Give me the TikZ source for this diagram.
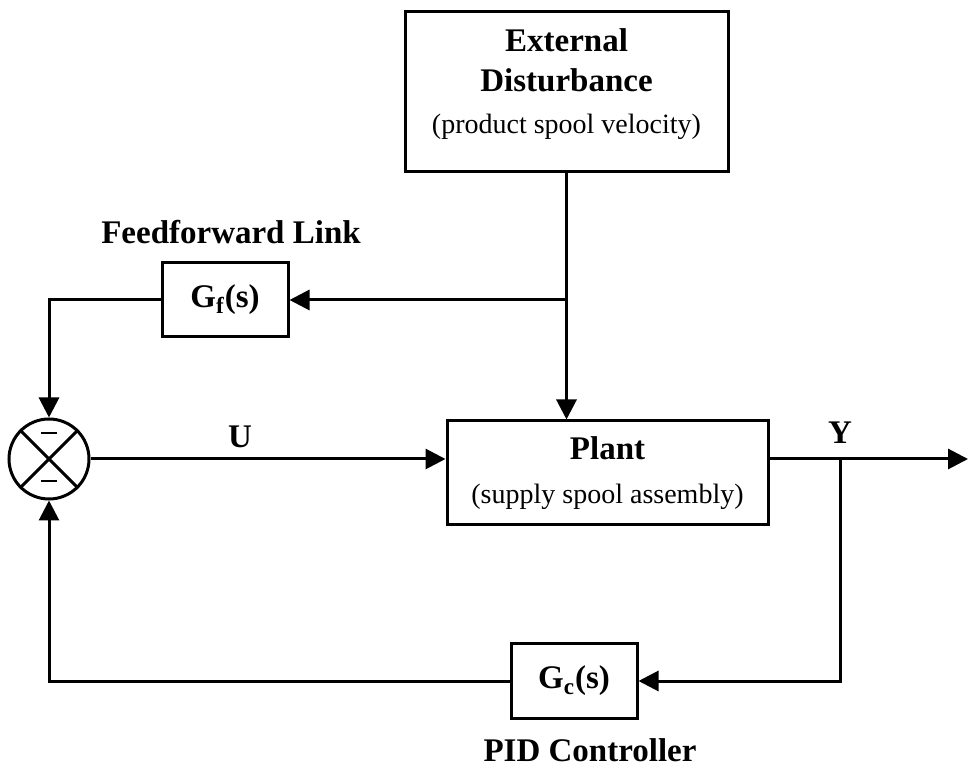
\documentclass[tikz,border=0pt]{standalone}
\usepackage{fontspec}
\setmainfont{Liberation Serif}
\usetikzlibrary{arrows.meta}
\tikzset{%
  every block/.style={
    draw,
    line width=1.5pt,
    inner sep=0pt,
    align=center,
    font=\bfseries\fontsize{16.5}{19}\selectfont
  },
  block sum/.style={
    circle,
    draw,
    line width=1.5pt,
    minimum size=40pt
  },
  block label/.style={
    inner sep=0pt,
    font=\bfseries\fontsize{16.5}{19}\selectfont
  },
}

\begin{document}
\begin{tikzpicture}[x=0.5pt, y=-0.5pt, line width=1.5pt,
  >={Triangle[length=10pt,width=10pt]}]
        \useasboundingbox (0,0) rectangle (969,769);

        % blocks
        \node [every block, minimum width=161.5pt, minimum height=80pt] (ext) at (566.5,92) {};
        \node [block label, align=center, font=\bfseries\fontsize{16.5}{20}\selectfont] (exttext) at (566.5,84)
          {External\\Disturbance\\[1pt]{\mdseries\fontsize{14}{17}\selectfont (product spool velocity)}};
        \node [every block, minimum width=63pt, minimum height=37pt] (gf) at (225,300)
          {G\textsubscript{f}(s)};
        \node [every block, minimum width=160.5pt, minimum height=52pt] (plant) at (607.5,473)
          {Plant\\[3pt]{\mdseries\fontsize{14}{17}\selectfont (supply spool assembly)}};
        \node [every block, minimum width=63pt, minimum height=37.5pt] (gc) at (574,681)
          {G\textsubscript{c}(s)};
        \node [block sum] (sum) at (49,459) {};

        % summing junction
        \draw (sum.45) -- (sum.225);
        \draw (sum.135) -- (sum.315);
        \foreach \y in {433,481}
        \draw [line width=1.4pt] (41,\y) -- (57,\y);

        % taps
        \coordinate (dtap) at (566.5,300);
        \coordinate (ytap) at (840,459);
        \coordinate (out) at (968,459);

        % connectors
        \draw [->] (ext.south) -- (dtap) -- (dtap |- plant.north);
        \draw [->] (dtap) -- (gf.east);
        \draw [->] (gf.west) -| (sum.north);
        \draw [->] (sum.east) -- (sum.east -| plant.west);
        \draw [->] (sum.east -| plant.east) -- (out);
        \draw [->] (ytap) |- (gc.east);
        \draw [->] (gc.west) -| (sum.south);

        % labels
        \node [block label] (fflabel) at (231,232) {Feedforward Link};
        \node [block label] (pidlabel) at (590,750) {PID Controller};
        \node [block label] (ulabel) at (240,437) {U};
        \node [block label] (ylabel) at (840,433) {Y};

    \end{tikzpicture}
\end{document}
